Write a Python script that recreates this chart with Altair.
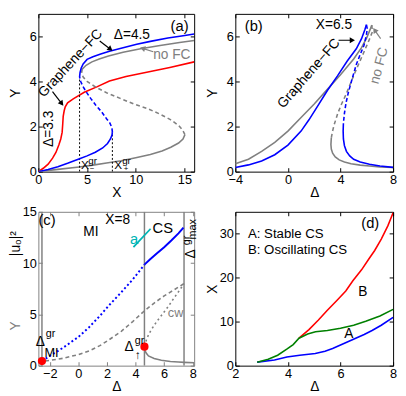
import math
import altair as alt
import pandas as pd

FONT = "Liberation Sans"
BLACK, BLUE, RED, GRAY, GREEN, CYAN = "#000000", "#0000ff", "#ff0000", "#808080", "#008000", "#00b4b4"

W1, W2 = 159, 161
H1, H2 = 161, 157

# ---------------- panel (a): Y vs X ----------------
A_RED_X = [0, 0.5, 1.0, 1.46, 1.8, 2.1, 2.3, 2.44, 2.5, 2.55, 2.65, 2.76, 3.0, 3.58, 4.71, 6.0, 7.3, 9.0, 11.5, 13.5, 16.0]
A_RED_Y = [0, 0.15, 0.33, 0.6, 0.85, 1.18, 1.45, 1.74, 2.1, 2.45, 2.7, 2.88, 3.05, 3.23, 3.52, 3.76, 4.02, 4.22, 4.44, 4.62, 4.87]
A_BLUE_LO_X = [0, 1.0, 2.0, 3.0, 4.23, 5.0, 5.85, 6.6, 7.1, 7.4, 7.56, 7.6]
A_BLUE_LO_Y = [0, 0.1, 0.22, 0.37, 0.57, 0.7, 0.86, 1.05, 1.25, 1.45, 1.62, 1.75]
A_BLUE_MID_X = [7.6, 7.55, 7.35, 7.0, 6.5, 5.9, 5.37, 4.9, 4.55, 4.35, 4.23]
A_BLUE_MID_Y = [1.75, 1.95, 2.15, 2.35, 2.65, 2.95, 3.25, 3.55, 3.8, 4.0, 4.2]
A_BLUE_UP_X = [4.23, 4.28, 4.4, 4.6, 5.0, 5.6, 6.4, 7.3, 8.5, 10.1, 11.5, 13.3, 14.7, 16.0]
A_BLUE_UP_Y = [4.2, 4.4, 4.6, 4.78, 4.98, 5.1, 5.22, 5.34, 5.48, 5.65, 5.78, 5.93, 6.02, 6.11]
A_GRAY_LO_X = [0, 2.0, 4.2, 5.6, 7.0, 8.5, 10.0, 11.5, 12.7, 13.6, 14.4, 14.85, 15.05]
A_GRAY_LO_Y = [0, 0.1, 0.21, 0.29, 0.38, 0.48, 0.62, 0.76, 0.92, 1.08, 1.27, 1.45, 1.64]
A_GRAY_MID_X = [15.05, 14.8, 14.4, 13.6, 12.5, 11.2, 9.8, 8.4, 7.0, 5.9, 5.0, 4.6, 4.44]
A_GRAY_MID_Y = [1.64, 1.85, 2.05, 2.3, 2.55, 2.8, 3.0, 3.25, 3.5, 3.75, 4.0, 4.2, 4.38]
A_GRAY_UP_X = [4.44, 4.5, 4.9, 5.5, 6.25, 7.2, 8.7, 10.5, 12.5, 14.5, 16.0]
A_GRAY_UP_Y = [4.38, 4.55, 4.72, 4.87, 5.0, 5.13, 5.3, 5.45, 5.6, 5.73, 5.82]
A_VLINE_X = [4.23, 7.6]
A_VLINE_TOP = [4.2, 1.75]
A_XTICKS = [0, 5, 10, 15]
A_YTICKS = [0, 2, 4, 6]

# ---------------- panel (b): Y vs Delta, X = 6.5 ----------------
B_GRAY_UP_X = [-4, -3, -2, -1, 0, 1, 2, 3, 4, 5, 5.6, 6.0, 6.25, 6.38]
B_GRAY_UP_Y = [0.35, 0.55, 0.9, 1.3, 1.8, 2.4, 3.0, 3.65, 4.3, 5.0, 5.5, 5.95, 6.3, 6.5]
B_GRAY_MID_X = [6.38, 6.42, 6.22, 6.0, 5.55, 5.1, 4.75, 4.4, 4.08, 3.8, 3.5, 3.38, 3.3]
B_GRAY_MID_Y = [6.5, 6.2, 5.9, 5.6, 5.0, 4.4, 3.9, 3.4, 3.0, 2.6, 2.05, 1.75, 1.5]
B_GRAY_LO_X = [3.3, 3.27, 3.3, 3.4, 3.6, 3.9, 4.3, 4.8, 5.5, 6.2, 7.0, 8.0]
B_GRAY_LO_Y = [1.5, 1.2, 1.0, 0.82, 0.65, 0.52, 0.43, 0.35, 0.29, 0.25, 0.21, 0.18]
B_BLUE_UP_X = [-4, -3, -2, -1, 0, 1, 1.6, 2.2, 3.0, 3.77, 4.5, 5.2, 5.6, 5.85, 5.97]
B_BLUE_UP_Y = [0.18, 0.3, 0.47, 0.75, 1.18, 1.8, 2.3, 2.85, 3.6, 4.25, 4.9, 5.45, 5.9, 6.3, 6.52]
B_BLUE_MID_X = [5.97, 6.03, 5.97, 5.78, 5.5, 5.2, 4.9, 4.61, 4.42, 4.3, 4.22]
B_BLUE_MID_Y = [6.52, 6.35, 6.05, 5.6, 5.2, 4.75, 4.15, 3.55, 3.05, 2.6, 2.15]
B_BLUE_LO_X = [4.22, 4.2, 4.22, 4.3, 4.45, 4.7, 5.0, 5.5, 6.2, 7.0, 8.0]
B_BLUE_LO_Y = [2.15, 1.8, 1.45, 1.15, 0.9, 0.7, 0.55, 0.43, 0.33, 0.25, 0.19]
B_XTICKS = [-4, 0, 4, 8]
B_YTICKS = [0, 2, 4, 6]

# ---------------- panel (c): |u0|^2 / Y vs Delta, X = 8 ----------------
C_BLUE_DOT_X = [-2.55, -2.0, -1.07, 0.0, 0.75, 1.5, 2.12, 3.0, 3.8, 4.62]
C_BLUE_DOT_Y = [0.45, 0.95, 1.75, 2.8, 3.75, 4.85, 5.85, 7.15, 8.4, 9.85]
C_BLUE_X = [4.62, 5.0, 5.5, 6.0, 6.5, 7.0, 7.35]
C_BLUE_Y = [9.85, 10.35, 10.95, 11.55, 12.2, 12.9, 13.45]
C_GRAY_DASH_X = [-2.8, -2.55, -2.0, -1.07, 0.0, 0.75, 1.5, 2.12, 3.0, 3.8, 4.62, 5.3, 6.0, 6.7, 7.39]
C_GRAY_DASH_Y = [0.35, 0.42, 0.52, 0.72, 1.08, 1.44, 1.95, 2.5, 3.35, 4.3, 5.35, 6.1, 6.8, 7.4, 8.0]
C_GRAY_DOT_X = [4.62, 4.8, 5.07, 5.45, 5.87, 6.3, 6.67, 7.05, 7.39]
C_GRAY_DOT_Y = [1.9, 2.7, 3.44, 4.25, 5.0, 5.8, 6.56, 7.3, 8.0]
C_GRAY_LO_X = [4.62, 4.65, 4.73, 4.9, 5.3, 5.8, 6.44, 7.0, 7.39, 8.1]
C_GRAY_LO_Y = [1.85, 1.5, 1.25, 0.95, 0.7, 0.52, 0.41, 0.35, 0.32, 0.28]
C_VLINES = [-2.55, 4.62, 7.39]
C_DOT_X = [-2.55, 4.62]
C_DOT_Y = [0.45, 1.85]
C_CYAN_X = [3.85, 5.05]
C_CYAN_Y = [11.55, 13.35]
C_XTICKS = [-2, 0, 2, 4, 6, 8]
C_YTICKS = [0, 5, 10, 15]

# ---------------- panel (d): X vs Delta ----------------
D_BLUE_X = [2.83, 3.49, 3.96, 4.45, 5.04, 5.41, 5.7, 6.0, 6.3, 6.6, 6.9, 7.2, 7.55, 8.0]
D_BLUE_Y = [0.8, 1.3, 1.95, 2.38, 2.75, 3.3, 3.9, 4.7, 5.5, 6.3, 7.1, 8.0, 9.2, 11.0]
D_GREEN_X = [2.83, 3.25, 3.61, 3.97, 4.2, 4.42, 4.75, 5.05, 5.5, 6.0, 6.5, 6.96, 7.5, 8.0]
D_GREEN_Y = [0.8, 1.45, 2.37, 3.8, 4.8, 6.25, 7.2, 7.7, 8.0, 8.5, 9.2, 10.1, 11.3, 12.8]
D_RED_X = [4.42, 4.8, 5.16, 5.5, 5.87, 6.2, 6.47, 6.8, 7.07, 7.3, 7.55, 7.8, 8.0]
D_RED_Y = [6.25, 8.2, 10.4, 12.6, 14.9, 17.0, 19.3, 21.8, 24.2, 26.2, 28.8, 31.8, 34.8]
D_XTICKS = [2, 4, 6, 8]
D_YTICKS = [0, 10, 20, 30]

AXC = dict(domain=False, grid=False, tickSize=4, offset=-4, labelFont=FONT, labelFontSize=13,
           labelColor=BLACK, titleFont=FONT, titleFontSize=14, titleFontWeight="normal",
           titleColor=BLACK, labelOverlap=False, labelFlush=False)


class Panel:
    def __init__(self, xdom, ydom, w, h, xticks, yticks, xtitle, ytitle, tick_color=BLACK,
                 left_extra=None, right_extra=None):
        self.xdom, self.ydom, self.w, self.h = xdom, ydom, w, h
        self.xticks, self.yticks = xticks, yticks
        self.xtitle, self.ytitle = xtitle, ytitle
        self.tc = tick_color
        self.left_extra = left_extra or {}
        self.right_extra = right_extra or {}
        self.layers = []

    def _xy(self):
        k = len(self.layers)
        xs = alt.Scale(domain=self.xdom, nice=False, zero=False)
        ys = alt.Scale(domain=self.ydom, nice=False, zero=False)
        if k == 0:
            xa = alt.Axis(orient="bottom", values=self.xticks, title=self.xtitle, tickColor=self.tc,
                          labelPadding=2, minExtent=18, maxExtent=18, titlePadding=0, **AXC)
            ya = alt.Axis(orient="left", values=self.yticks, title=self.ytitle, tickColor=self.tc,
                          labelPadding=2, minExtent=18, maxExtent=18, titlePadding=2, **AXC,
                          **self.left_extra)
        elif k == 1:
            xa = alt.Axis(orient="top", values=self.xticks, labels=False, title=None, tickColor=self.tc,
                          domain=False, grid=False, tickSize=4, offset=-4)
            rx = dict(title=None)
            rx.update(self.right_extra)
            ya = alt.Axis(orient="right", values=self.yticks, labels=False, tickColor=self.tc,
                          domain=False, grid=False, tickSize=4, offset=-4, **rx)
        else:
            return alt.X("x:Q", scale=xs, axis=None), alt.Y("y:Q", scale=ys, axis=None)
        return alt.X("x:Q", scale=xs, axis=xa), alt.Y("y:Q", scale=ys, axis=ya)

    def curve(self, xs, ys, color, dash=None, width=1.6):
        X, Y = self._xy()
        df = pd.DataFrame({"x": list(xs), "y": list(ys), "i": list(range(len(xs)))})
        kw = dict(color=color, strokeWidth=width, clip=True)
        if dash:
            kw["strokeDash"] = dash
        self.layers.append(alt.Chart(df).mark_line(**kw).encode(x=X, y=Y, order=alt.Order("i:Q")))

    def text(self, xs, ys, labels, size=14, color=BLACK, angle=None, align="center", baseline="middle"):
        X, Y = self._xy()
        df = pd.DataFrame({"x": list(xs), "y": list(ys), "t": list(labels)})
        kw = dict(font=FONT, fontSize=size, color=color, align=align, baseline=baseline)
        if angle:
            kw["angle"] = angle
        self.layers.append(alt.Chart(df).mark_text(**kw).encode(x=X, y=Y, text="t:N"))

    def dots(self, xs, ys, color, size=70):
        X, Y = self._xy()
        df = pd.DataFrame({"x": list(xs), "y": list(ys)})
        self.layers.append(alt.Chart(df).mark_circle(color=color, size=size, opacity=1).encode(x=X, y=Y))

    def arrow(self, tail, head, color):
        self.curve([tail[0], head[0]], [tail[1], head[1]], color, width=1.2)
        sx = self.w / (self.xdom[1] - self.xdom[0])
        sy = self.h / (self.ydom[1] - self.ydom[0])
        dx = (head[0] - tail[0]) * sx
        dy = -(head[1] - tail[1]) * sy
        ang = math.degrees(math.atan2(dx, -dy)) % 360
        X, Y = self._xy()
        df = pd.DataFrame({"x": [head[0]], "y": [head[1]]})
        self.layers.append(alt.Chart(df).mark_point(shape="triangle-up", filled=True, size=38, angle=ang,
                                                    color=color, opacity=1).encode(x=X, y=Y))

    def chart(self, frame=BLACK):
        return alt.layer(*self.layers).resolve_axis(x="independent", y="independent").properties(
            width=self.w, height=self.h, view=alt.ViewBackground(stroke=frame, strokeWidth=1))


# ---- (a)
pa = Panel([0, 16], [0, 7], W1, H1, A_XTICKS, A_YTICKS, "X", "Y")
pa.curve(A_RED_X, A_RED_Y, RED)
pa.curve(A_GRAY_LO_X, A_GRAY_LO_Y, GRAY)
pa.curve(A_GRAY_MID_X, A_GRAY_MID_Y, GRAY, dash=[4, 3])
pa.curve(A_GRAY_UP_X, A_GRAY_UP_Y, GRAY)
for vx, vt in zip(A_VLINE_X, A_VLINE_TOP):
    pa.curve([vx, vx], [0, vt], BLACK, dash=[2, 2], width=1)
pa.curve(A_BLUE_LO_X, A_BLUE_LO_Y, BLUE)
pa.curve(A_BLUE_MID_X, A_BLUE_MID_Y, BLUE, dash=[4, 2.5])
pa.curve(A_BLUE_UP_X, A_BLUE_UP_Y, BLUE)
pa.arrow((6.3, 5.8), (7.4, 5.43), BLACK)
pa.arrow((1.45, 3.55), (2.4, 3.02), BLACK)
pa.arrow((11.8, 5.32), (10.7, 5.47), GRAY)
pa.text([14.5], [6.45], ["(a)"], size=15)
pa.text([9.6], [6.05], ["Δ=4.5"])
pa.text([3.3], [4.8], ["Graphene−FC"], angle=313)
pa.text([1.14], [1.9], ["Δ=3.3"], angle=270)
pa.text([13.7], [5.15], ["no FC"], color=GRAY)
pa.text([4.78, 8.19], [0.27, 0.27], ["X", "X"], size=12)
pa.text([5.58, 9.05], [0.45, 0.45], ["gr", "gr"], size=10)
pa.text([5.5, 9.0], [0.12, 0.12], ["−", "+"], size=8)

# ---- (b)
pb = Panel([-4, 8], [0, 7], W2, H1, B_XTICKS, B_YTICKS, "Δ", "Y")
pb.curve(B_GRAY_UP_X, B_GRAY_UP_Y, GRAY)
pb.curve(B_GRAY_MID_X, B_GRAY_MID_Y, GRAY, dash=[4, 3])
pb.curve(B_GRAY_LO_X, B_GRAY_LO_Y, GRAY)
pb.curve(B_BLUE_UP_X, B_BLUE_UP_Y, BLUE)
pb.curve(B_BLUE_MID_X, B_BLUE_MID_Y, BLUE, dash=[4, 2.5])
pb.curve(B_BLUE_LO_X, B_BLUE_LO_Y, BLUE)
pb.arrow((3.85, 5.83), (4.9, 5.83), BLACK)
pb.arrow((7.05, 5.9), (6.6, 6.28), GRAY)
pb.text([-2.6], [6.45], ["(b)"], size=15)
pb.text([3.5], [6.5], ["X=6.5"])
pb.text([1.6], [4.35], ["Graphene−FC"], angle=311)
pb.text([6.95], [4.7], ["no FC"], color=GRAY, angle=285)

# ---- (c)
pc = Panel([-2.8, 8.1], [0, 15], W1, H2, C_XTICKS, C_YTICKS, "Δ", "|u₀|²", tick_color=GRAY,
           left_extra=dict(titleX=-20, titleY=32, titleAngle=270, titleBaseline="bottom", titleAlign="center"),
           right_extra=dict(title="Y", titleColor=GRAY, titleFont=FONT, titleFontSize=14,
                            titleFontWeight="normal", titleX=-(W1 - 4) - 16, titleY=116,
                            titleAngle=270, titleBaseline="bottom", titleAlign="center"))
for vx in C_VLINES:
    pc.curve([vx, vx], [0, 15], GRAY, width=1.5)
pc.curve(C_GRAY_DASH_X, C_GRAY_DASH_Y, GRAY, dash=[4, 3])
pc.curve(C_GRAY_DOT_X, C_GRAY_DOT_Y, GRAY, dash=[2, 3])
pc.curve(C_GRAY_LO_X, C_GRAY_LO_Y, GRAY)
pc.curve(C_BLUE_DOT_X, C_BLUE_DOT_Y, BLUE, dash=[2, 2.5], width=2)
pc.curve(C_BLUE_X, C_BLUE_Y, BLUE, width=2)
pc.curve(C_CYAN_X, C_CYAN_Y, CYAN, width=1.8)
pc.dots(C_DOT_X, C_DOT_Y, RED)
pc.text([-2.2], [14.15], ["(c)"], size=15)
pc.text([2.75], [14.2], ["X=8"])
pc.text([0.87], [13.0], ["MI"])
pc.text([5.9], [13.4], ["CS"], size=15)
pc.text([3.9], [12.3], ["a"], size=15, color=CYAN)
pc.text([6.8], [5.1], ["cw"], size=13, color=GRAY)
pc.text([-2.66, 3.55], [2.3, 1.8], ["Δ", "Δ"], size=14)
pc.text([-1.95, 4.27], [3.05, 2.4], ["gr", "gr"], size=11)
pc.text([-1.88], [1.25], ["MI"], size=13)
pc.text([4.16], [1.0], ["↑"], size=12)
pc.text([7.9], [10.9], ["Δ"], size=14, angle=270)
pc.text([7.6], [12.2], ["gr"], size=11, angle=270)
pc.text([8.0], [13.3], ["max"], size=11, angle=270)

# ---- (d)
pd_ = Panel([2, 8], [0, 35], W2, H2, D_XTICKS, D_YTICKS, "Δ", "X")
pd_.curve(D_BLUE_X, D_BLUE_Y, BLUE)
pd_.curve(D_RED_X, D_RED_Y, RED)
pd_.curve(D_GREEN_X, D_GREEN_Y, GREEN)
pd_.text([7.13], [32.4], ["(d)"], size=15)
pd_.text([2.48, 2.48], [30.0, 26.4], ["A: Stable CS", "B: Oscillating CS"], size=13.5, align="left")
pd_.text([6.32, 6.85], [7.2, 16.8], ["A", "B"], size=14)

chart = alt.concat(pa.chart(), pb.chart(), pc.chart(frame=GRAY), pd_.chart(), columns=2,
                   spacing={"row": 5, "column": 6}).properties(
    padding={"left": 0, "top": 1, "right": 0, "bottom": 0}
).configure_view(stroke=BLACK, strokeWidth=1).configure(font=FONT, background="white")

chart.save("out.html", embed_options={"renderer": "svg", "actions": False})
